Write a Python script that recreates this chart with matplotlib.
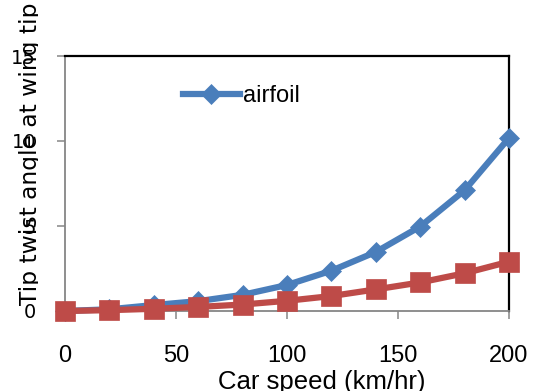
import matplotlib
matplotlib.use("Agg")
import matplotlib.pyplot as plt
from matplotlib.transforms import Bbox, TransformedBbox

# Car speed (km/hr) and tip twist angle for each wing section
speed = [0, 20, 40, 60, 80, 100, 120, 140, 160, 180, 200]
airfoil = [0, 0.10, 0.35, 0.58, 0.95, 1.53, 2.37, 3.47, 4.97, 7.10, 10.18]
second_series = [0, 0.05, 0.13, 0.24, 0.38, 0.60, 0.88, 1.27, 1.68, 2.22, 2.90]

x_ticks = [0, 50, 100, 150, 200]
y_ticks = [0, 5, 10, 15]

W, H, DPI = 540, 391, 100
fig = plt.figure(figsize=(W / DPI, H / DPI), dpi=DPI)
ax = fig.add_axes([65 / W, 1 - 311 / H, 444 / W, 255 / H])

blue = "#4A7EBB"
red = "#BE4B48"
gray = "#868686"

ax.plot(speed, airfoil, color=blue, lw=4.5, marker="D", ms=10,
        mec=blue, mew=0.5, label="airfoil", clip_on=False, zorder=3)
ax.plot(speed, second_series, color=red, lw=4.5, marker="s", ms=14,
        mec=red, mew=0.5, clip_on=False, zorder=4)

ax.set_xlim(0, 200)
ax.set_ylim(0, 15)
ax.set_xticks(x_ticks)
ax.set_yticks(y_ticks)
ax.set_xticklabels([str(v) for v in x_ticks], family="Liberation Sans", fontsize=17)
ax.set_yticklabels([str(v) for v in y_ticks], family="DejaVu Sans", fontsize=14)

ax.tick_params(axis="both", direction="out", length=5.8, width=1.1, color=gray)
ax.tick_params(axis="x", pad=19)
ax.tick_params(axis="y", pad=15)

for side in ("left", "bottom"):
    ax.spines[side].set_color(gray)
    ax.spines[side].set_linewidth(1.3)
for side in ("top", "right"):
    ax.spines[side].set_color("black")
    ax.spines[side].set_linewidth(1.6)

leg = ax.legend(loc="center left", bbox_to_anchor=(0.2658, 0.843),
                frameon=False, borderpad=0, borderaxespad=0,
                handlelength=2.4, handletextpad=0.12, numpoints=1,
                prop={"family": "Liberation Sans", "size": 17})

# Axis titles
fig.text(322 / W, 1 - 389 / H, "Car speed (km/hr)", ha="center", va="baseline",
         family="Liberation Sans", fontsize=18.5)
ylab = fig.text(37.5 / W, 1 - 305 / H, "Tip twist angle at wing tip",
                rotation=90, rotation_mode="anchor", ha="left", va="baseline",
                family="DejaVu Sans", fontsize=16.8)
ylab.set_clip_box(TransformedBbox(Bbox.from_extents(0, 0, 0.38, H / DPI),
                                  fig.dpi_scale_trans))
ylab.set_clip_on(True)

fig.savefig("out.png", dpi=DPI)
